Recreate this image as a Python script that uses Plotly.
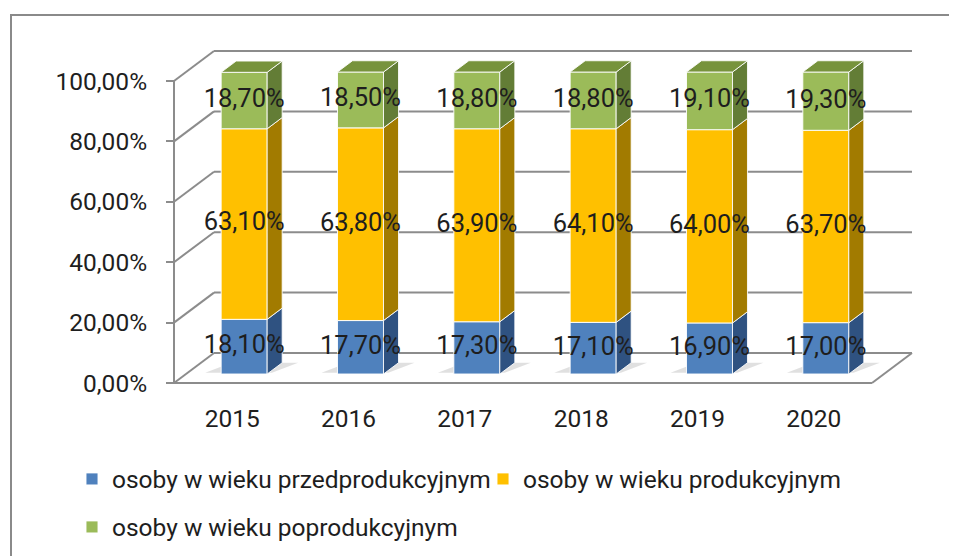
import plotly.graph_objects as go

# ---------------- data ----------------
years = ["2015", "2016", "2017", "2018", "2019", "2020"]
przedprodukcyjny = [18.1, 17.7, 17.3, 17.1, 16.9, 17.0]
produkcyjny = [63.1, 63.8, 63.9, 64.1, 64.0, 63.7]
poprodukcyjny = [18.7, 18.5, 18.8, 18.8, 19.1, 19.3]
series_names = ["osoby w wieku przedprodukcyjnym",
                "osoby w wieku produkcyjnym",
                "osoby w wieku poprodukcyjnym"]
y_ticks = [0, 0.2, 0.4, 0.6, 0.8, 1.0]

# ---------------- styles ----------------
front_colors = ["#4F81BD", "#FFC000", "#9BBB59"]
side_colors = ["#2F5281", "#A27B00", "#637D36"]
top_color = "#77933C"
grid_color = "#8C8C8C"
text_color = "#1E1E1E"
FONT = "Roboto, 'Open Sans', sans-serif"
FS = 24.5
FS_LABEL = 25.5

# ---------------- geometry (pixel based) ----------------
W, H = 957, 556
OFF = 8                # page body margin compensation
PX_X = 116.33          # px per category
PX_Y = 302.0           # px per 100 %
FRONT_LEFT_PX = 174 - OFF
FLOOR_PX = 383 - OFF
PAD = 9
ML = FRONT_LEFT_PX - PAD
MR = W - (920 - OFF)
MT = 40 - OFF
MB = H - (FLOOR_PX + PAD)
PW = W - ML - MR
PH = H - MT - MB

x_min = -0.5 - PAD / PX_X
x_max = x_min + PW / PX_X
y_min = -PAD / PX_Y
y_max = y_min + PH / PX_Y

DX = 40 / PX_X          # full depth of the box (x)
DY = 30 / PX_Y          # full depth of the box (y)
F0 = 0.30               # bar front face depth fraction
FD = 0.375              # bar depth fraction
BAR_W = 46 / PX_X

def px2paper_x(px):
    return (px - OFF - ML) / PW

def px2paper_y(py):
    return (H - MB - (py - OFF)) / PH

series = [przedprodukcyjny, produkcyjny, poprodukcyjny]
n = len(years)
cats = list(range(n))

fig = go.Figure()

# ---------------- walls, floor, gridlines (shapes below traces) ----------------
shapes = []
line = dict(color=grid_color, width=2)
x_front_l, x_front_r = -0.5, n - 0.5
for t in y_ticks:
    shapes.append(dict(type="line", xref="x", yref="y", layer="below",
                       x0=x_front_l + DX, x1=x_front_r + DX, y0=t + DY, y1=t + DY, line=line))
    shapes.append(dict(type="line", xref="x", yref="y", layer="below",
                       x0=x_front_l, x1=x_front_l + DX, y0=t, y1=t + DY, line=line))
shapes.append(dict(type="line", xref="x", yref="y", layer="below",
                   x0=x_front_l, x1=x_front_l, y0=0, y1=y_ticks[-1], line=line))
shapes.append(dict(type="line", xref="x", yref="y", layer="below",
                   x0=x_front_l, x1=x_front_r, y0=0, y1=0, line=line))
shapes.append(dict(type="line", xref="x", yref="y", layer="below",
                   x0=x_front_r, x1=x_front_r + DX, y0=0, y1=DY, line=line))

# bar shadows on the floor
for i in cats:
    xl = i + F0 * DX - BAR_W / 2
    xr = i + F0 * DX + BAR_W / 2
    y0 = F0 * DY
    sx = 16 / PX_X
    pts = [(xl - sx, y0 + 0.004), (xr + sx * 0.3, y0 + 0.004),
           (xr + FD * DX + sx, y0 + FD * DY), (xl + FD * DX - sx * 0.3, y0 + FD * DY)]
    path = "M " + " L ".join(f"{a},{b}" for a, b in pts) + " Z"
    shapes.append(dict(type="path", xref="x", yref="y", layer="below", path=path,
                       fillcolor="rgba(0,0,0,0.12)", line=dict(width=0)))

# outer chart border
shapes.append(dict(type="rect", xref="paper", yref="paper", layer="below",
                   x0=px2paper_x(11), x1=px2paper_x(W + 20),
                   y0=px2paper_y(H + 20), y1=px2paper_y(15),
                   line=dict(color="#8A8A8A", width=2), fillcolor="rgba(0,0,0,0)"))

# ---------------- bars (front faces) ----------------
cum = [0.0] * n
bases_all = []
for s, vals in enumerate(series):
    frac = [v / 100 for v in vals]
    bases = cum[:]
    bases_all.append(bases)
    fig.add_trace(go.Bar(
        x=[i + F0 * DX for i in cats], y=frac,
        base=[b + F0 * DY for b in bases],
        width=BAR_W, name=series_names[s],
        marker=dict(color=front_colors[s], line=dict(color="rgba(255,255,255,0.9)", width=1)),
        legend="legend" if s < 2 else "legend2",
        hoverinfo="skip",
    ))
    cum = [c + f for c, f in zip(cum, frac)]

# ---------------- side faces ----------------
for s, vals in enumerate(series):
    xs, ys = [], []
    for i in cats:
        lo = bases_all[s][i] + F0 * DY
        hi = lo + vals[i] / 100
        xr = i + F0 * DX + BAR_W / 2
        xs += [xr, xr + FD * DX, xr + FD * DX, xr, xr, None]
        ys += [lo, lo + FD * DY, hi + FD * DY, hi, lo, None]
    fig.add_trace(go.Scatter(x=xs, y=ys, mode="lines", fill="toself",
                             fillcolor=side_colors[s],
                             line=dict(color="rgba(255,255,255,0.85)", width=1),
                             showlegend=False, hoverinfo="skip"))

# ---------------- top faces ----------------
xs, ys = [], []
for i in cats:
    top = cum[i] + F0 * DY
    xl = i + F0 * DX - BAR_W / 2
    xr = i + F0 * DX + BAR_W / 2
    xs += [xl, xr, xr + FD * DX, xl + FD * DX, xl, None]
    ys += [top, top, top + FD * DY, top + FD * DY, top, None]
fig.add_trace(go.Scatter(x=xs, y=ys, mode="lines", fill="toself", fillcolor=top_color,
                         line=dict(color="rgba(255,255,255,0.85)", width=1),
                         showlegend=False, hoverinfo="skip"))

# ---------------- data labels ----------------
for s, vals in enumerate(series):
    fig.add_trace(go.Scatter(
        x=[i + F0 * DX for i in cats],
        y=[bases_all[s][i] + F0 * DY + vals[i] / 200 for i in cats],
        mode="text",
        text=[f"{v:.2f}%".replace(".", ",") for v in vals],
        textfont=dict(family=FONT, size=FS_LABEL, color=text_color),
        textposition="middle center", cliponaxis=False,
        showlegend=False, hoverinfo="skip"))

# ---------------- layout ----------------
fig.update_layout(
    width=W, height=H,
    margin=dict(l=ML, r=MR, t=MT, b=MB, autoexpand=False),
    paper_bgcolor="white", plot_bgcolor="white",
    separators=", ",
    barmode="overlay",
    font=dict(family=FONT, size=FS, color=text_color),
    shapes=shapes,
    xaxis=dict(range=[x_min, x_max], tickvals=cats, ticktext=years,
               ticks="", showgrid=False, zeroline=False, showline=False,
               anchor="free", position=px2paper_y(383),
               ticklabelstandoff=18, automargin=False,
               tickfont=dict(family=FONT, size=FS, color=text_color)),
    xaxis2=dict(range=[x_min, x_max], overlaying="x", side="bottom",
                tickvals=[k - 0.5 for k in range(n + 1)],
                ticks="outside", ticklen=8, tickwidth=2, tickcolor=grid_color,
                showticklabels=False, showgrid=False, zeroline=False, showline=False,
                anchor="free", position=px2paper_y(383), automargin=False),
    yaxis=dict(range=[y_min, y_max], tickvals=y_ticks, tickformat=".2%",
               ticks="outside", ticklen=8, tickwidth=2, tickcolor=grid_color,
               showgrid=False, zeroline=False, showline=False,
               anchor="free", position=px2paper_x(174),
               ticklabelstandoff=14, automargin=False,
               tickfont=dict(family=FONT, size=FS, color=text_color)),
    legend=dict(orientation="h", x=px2paper_x(72), y=px2paper_y(479),
                xanchor="left", yanchor="middle", bgcolor="rgba(0,0,0,0)",
                entrywidth=366, entrywidthmode="pixels",
                font=dict(family=FONT, size=FS, color=text_color)),
    legend2=dict(orientation="h", x=px2paper_x(72), y=px2paper_y(527),
                 xanchor="left", yanchor="middle", bgcolor="rgba(0,0,0,0)",
                 font=dict(family=FONT, size=FS, color=text_color)),
)

fig.write_html("out.html")
